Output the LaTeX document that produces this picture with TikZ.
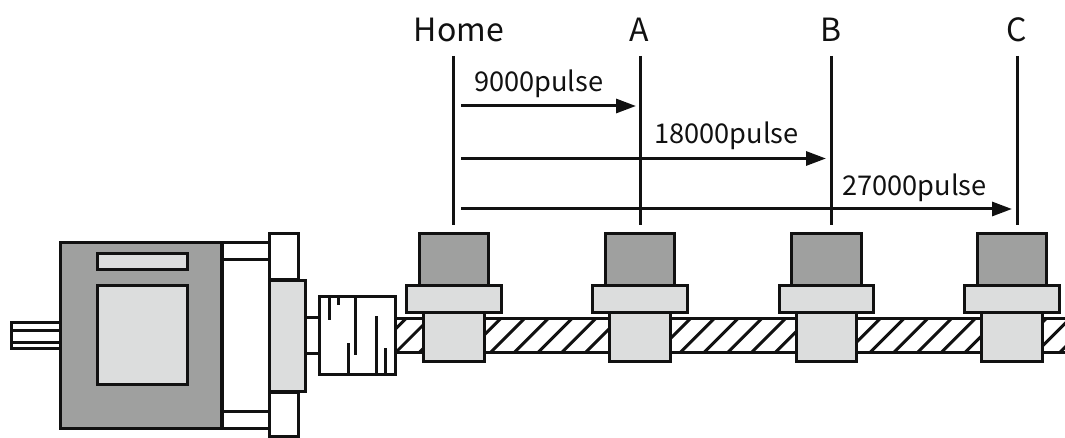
\documentclass[tikz,border=0pt]{standalone}
\usepackage{fontspec}
\setmainfont{Noto Sans CJK SC}
\usetikzlibrary{arrows.meta}
\definecolor{dk}{HTML}{9FA09F}
\definecolor{lt}{HTML}{DCDDDD}
\definecolor{ink}{HTML}{111111}
\tikzset{
  part/.style={draw=ink,line width=3pt,line join=miter},
  dark/.style={part,fill=dk},
  light/.style={part,fill=lt},
  white/.style={part,fill=white},
  slit/.style={draw=ink,line width=3pt},
  vline/.style={draw=ink,line width=3pt},
  dist/.style={draw=ink,line width=3pt,-{Triangle[length=20pt,width=14pt]}},
  big/.style={inner sep=0pt,anchor=base,text=ink,font=\fontsize{32}{35}\selectfont},
  small/.style={inner sep=0pt,anchor=base west,text=ink,font=\fontsize{27.2}{30}\selectfont},
}
\newcommand{\carriage}[1]{%
  \draw[dark,shift={(#1,0)}] (419,233.3) rectangle (488.7,286);
  \draw[light,shift={(#1,0)}] (423.6,312) rectangle (484.4,361.4);
  \draw[light,shift={(#1,0)}] (406.6,285.6) rectangle (501,312.7);
}
\begin{document}
\begin{tikzpicture}[x=1pt,y=-1pt]
\useasboundingbox (0,0) rectangle (1065,438);
% screw
\begin{scope}
  \clip (396,318.6) rectangle (1065,352.4);
  \foreach \k in {-5,...,27} {
    \draw[slit] ({490+23.72*\k},353) -- ++(35,-35);
  }
\end{scope}
\draw[slit] (396,318.6) -- (1065,318.6);
\draw[slit] (396,352.4) -- (1065,352.4);
% shaft
\draw[white] (11,322.5) rectangle (60,348.5);
\draw[slit] (11,330) -- (60,330);
\draw[slit] (11,342) -- (60,342);
% motor
\draw[white] (222,243) rectangle (269,259.5);
\draw[white] (222,411) rectangle (269,428);
\draw[slit] (222,259.5) -- (222,411);
\draw[dark] (60.6,242.6) rectangle (221.4,428);
\draw[light] (97,253.6) rectangle (187.7,270);
\draw[light] (97,285.3) rectangle (187.7,384.4);
% flange
\draw[white] (269,233.3) rectangle (298,280);
\draw[white] (269,392) rectangle (298,436.5);
\draw[light] (269,280.3) rectangle (305,391.4);
% coupling
\draw[white] (305,317.3) rectangle (319,353.7);
\draw[white] (319,296.6) rectangle (395.4,374.7);
\draw[slit] (329,296.6) -- (329,320);
\draw[slit] (338.5,296.6) -- (338.5,305);
\draw[slit] (355,296.6) -- (355,355);
\draw[slit] (348,343) -- (348,374.7);
\draw[slit] (376,316) -- (376,374.7);
\draw[slit] (385,348) -- (385,374.7);
% carriages
\carriage{0}
\carriage{186}
\carriage{372.4}
\carriage{558}
% labels
\node[big] (home) at (459,41.5) {Home};
\node[big] (a) at (639.5,41.5) {A};
\node[big] (b) at (831,41.5) {B};
\node[big] (c) at (1017,41.5) {C};
\node[small] (p1) at (474,91.5) {9000pulse};
\node[small] (p2) at (654,144) {18000pulse};
\node[small] (p3) at (842,196) {27000pulse};
% guide lines
\coordinate (h1) at (453.5,56); \coordinate (h2) at (453.5,225);
\coordinate (a1) at (640,56);   \coordinate (a2) at (640,225);
\coordinate (b1) at (831,56);   \coordinate (b2) at (831,225);
\coordinate (c1) at (1017,56);  \coordinate (c2) at (1017,225);
\draw[vline] (h1) -- (h2);
\draw[vline] (a1) -- (a2);
\draw[vline] (b1) -- (b2);
\draw[vline] (c1) -- (c2);
\coordinate (s1) at (461,106); \coordinate (e1) at (636,106);
\coordinate (s2) at (461,158.5); \coordinate (e2) at (826,158.5);
\coordinate (s3) at (461,209); \coordinate (e3) at (1012,209);
\draw[dist] (s1) -- (e1);
\draw[dist] (s2) -- (e2);
\draw[dist] (s3) -- (e3);
\end{tikzpicture}
\end{document}
